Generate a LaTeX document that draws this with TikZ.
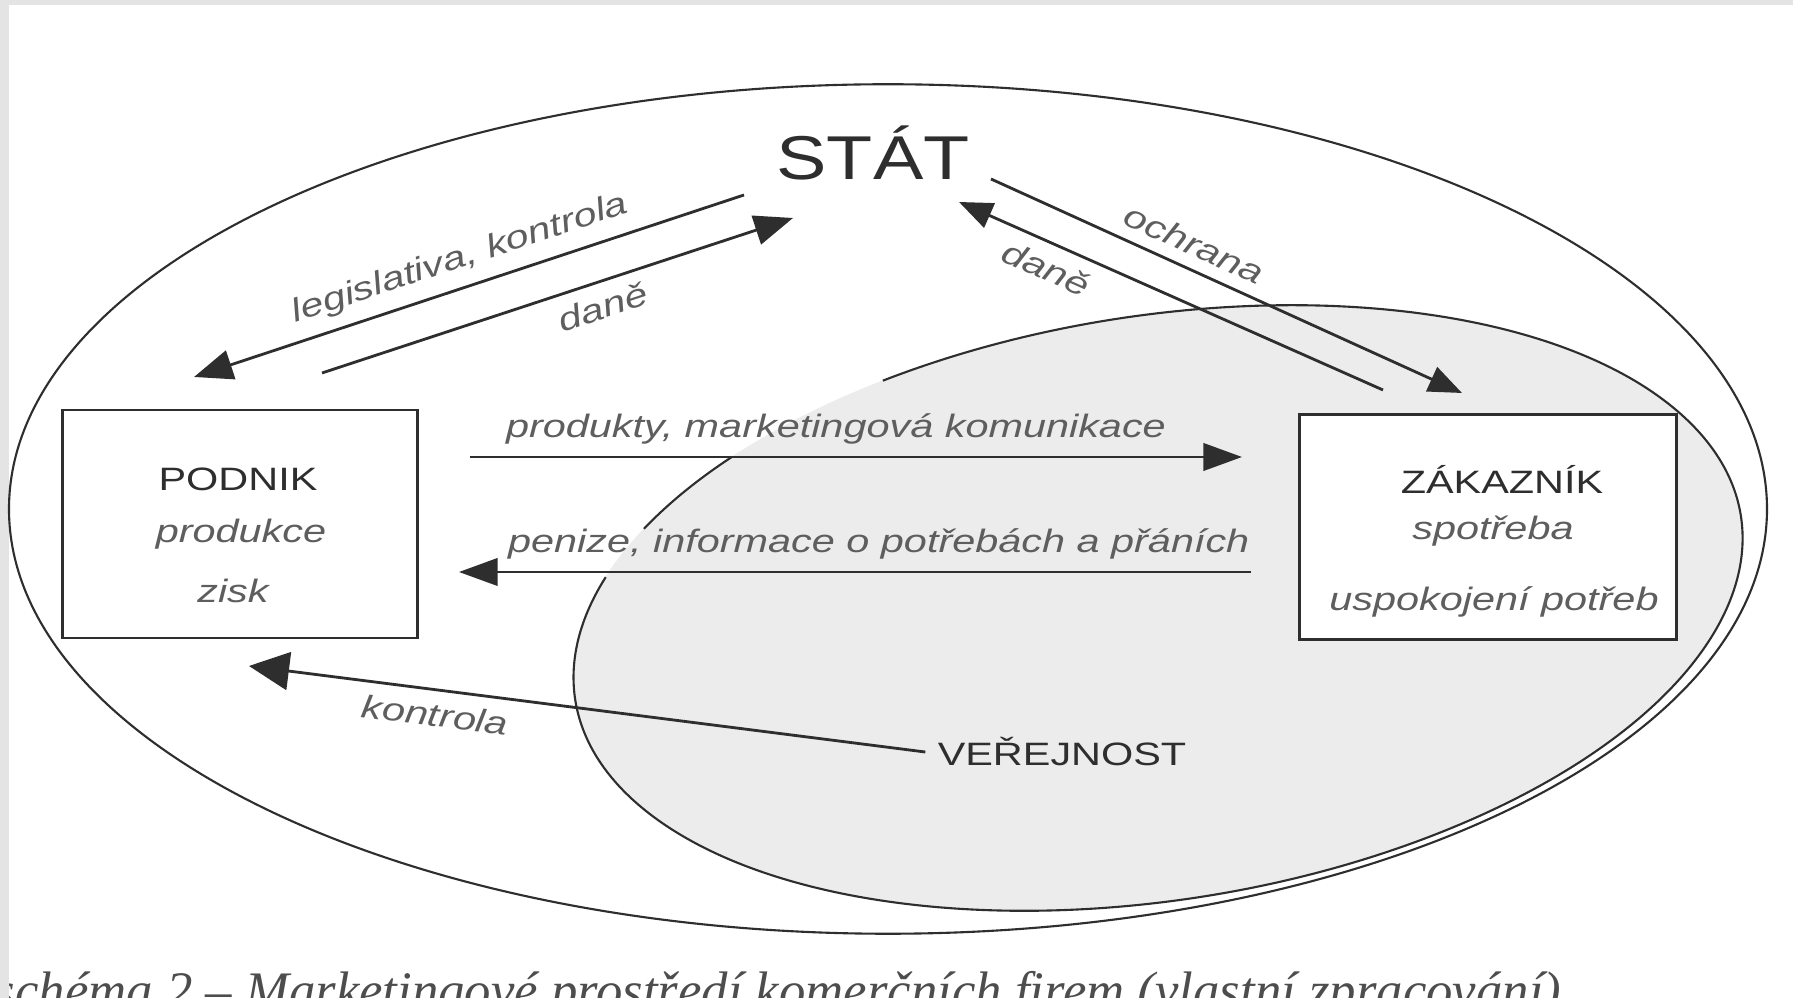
\documentclass[tikz,border=0pt]{standalone}
\usepackage{fontspec}
\setmainfont{Liberation Sans}
\newfontfamily\diafont{Liberation Sans}[FakeStretch=1.28]
\newfontfamily\statefont{Liberation Sans}[FakeStretch=1.22]
\newfontfamily\capfont{Liberation Serif}
\usetikzlibrary{arrows.meta,shapes.geometric}
\definecolor{ink}{HTML}{2E2E2E}
\definecolor{lblgray}{HTML}{5E5E5E}
\definecolor{publicfill}{HTML}{ECECEC}
\definecolor{framegray}{HTML}{E4E4E4}

\begin{document}
\begin{tikzpicture}[x=0.01cm, y=-0.01cm,
    arr/.style={draw=ink, line width=.8pt, -{Triangle[length=11pt,width=8.5pt]}},
    arrback/.style={draw=ink, line width=.8pt, {Triangle[length=11pt,width=8.5pt]}-},
    lbl/.style={font=\diafont\itshape\fontsize{9.2}{11}\selectfont, text=lblgray},
    title/.style={font=\diafont\fontsize{9.2}{11}\selectfont, text=ink}]

  \useasboundingbox (0,0) rectangle (1793,998);
  \fill[white] (0,0) rectangle (1793,998);

  % caption below, cut by the page edge
  \node[anchor=base west, inner sep=0, text=ink!85,
        font=\capfont\itshape\fontsize{15}{18}\selectfont] (caption) at (-6,1009)
        {schéma 2 – Marketingové prostředí komerčních firem (vlastní zpracování)};
  \fill[framegray] (0,0) rectangle (9,998);
  \fill[framegray] (0,0) rectangle (1793,5);

  % ellipses
  \node[ellipse, draw=ink, line width=.6pt, inner sep=0,
        minimum width=17.57cm, minimum height=8.49cm] (world) at (888,509) {};
  \node[ellipse, fill=publicfill, inner sep=0,
        minimum width=11.8cm, minimum height=5.84cm, rotate=9] (public) at (1158,608) {};
  % its rim, broken where the labels cross it
  \begin{scope}[shift={(public.center)}, rotate=9, draw=ink, line width=.6pt]
    \draw (246.4:590 and 292) arc[start angle=246.4, end angle=563.6, x radius=590, y radius=292];
    \draw (212.9:590 and 292) arc[start angle=212.9, end angle=227.7, x radius=590, y radius=292];
  \end{scope}

  % boxes
  \begin{scope}[every node/.style={draw=ink, line width=.8pt, fill=white, inner sep=0}]
    \node[minimum width=3.55cm, minimum height=2.28cm] (firm) at (240,524) {};
    \node[minimum width=3.76cm, minimum height=2.25cm] (customer) at (1488,527) {};
  \end{scope}

  \node[font=\statefont\fontsize{17.6}{20}\selectfont, text=ink, anchor=base] (state) at (873,180) {STÁT};

  \node[title, anchor=base] (firm-t) at (238,491) {PODNIK};
  \node[lbl, anchor=base] (firm-a) at (241,543) {produkce};
  \node[lbl, anchor=base] (firm-b) at (233,603) {zisk};
  \node[title, anchor=base] (cust-t) at (1502,494) {ZÁKAZNÍK};
  \node[lbl, anchor=base] (cust-a) at (1493,540) {spotřeba};
  \node[lbl, anchor=base] (cust-b) at (1494,611) {uspokojení potřeb};
  \node[title, anchor=base] (public-t) at (1062,766) {VEŘEJNOST};

  % arrow ends
  \coordinate (fi-l) at (194,377);
  \coordinate (st-l) at (744,195);
  \coordinate (fi-d) at (322,373);
  \coordinate (st-d) at (793,218);
  \coordinate (st-d2) at (959,202);
  \coordinate (cu-d2) at (1383,390);
  \coordinate (st-o) at (991,179);
  \coordinate (cu-o) at (1462,393);
  \coordinate (fi-p) at (470,457);
  \coordinate (cu-p) at (1242,457);
  \coordinate (fi-m) at (459,572);
  \coordinate (cu-m) at (1251,572);
  \coordinate (fi-k) at (249,666);

  \path (fi-l) edge[arrback] node[lbl, sloped, above] {legislativa, kontrola} (st-l);
  \path (fi-d) edge[arr] node[lbl, sloped, below, pos=.58] {daně} (st-d);
  \path (st-d2) edge[arrback, {Triangle[length=9.5pt,width=7.5pt]}-] node[lbl, sloped, below, pos=.23] {daně} (cu-d2);
  \path (st-o) edge[arr, -{Triangle[length=9.5pt,width=7.5pt]}] node[lbl, sloped, above, pos=.41] {ochrana} (cu-o);
  \path (fi-p) edge[arr, -{Triangle[length=11pt,width=7.8pt]}] node[lbl, above, pos=.474] {produkty, marketingová komunikace} (cu-p);
  \path (fi-m) edge[arrback, {Triangle[length=11pt,width=7.8pt]}-] node[lbl, above, pos=.53] {penize, informace o potřebách a přáních} (cu-m);
  \path (fi-k) edge[arrback, {Triangle[length=11.4pt,width=10.8pt]}-] node[lbl, sloped, below, pos=.28] {kontrola} (public-t.west);

\end{tikzpicture}
\end{document}
